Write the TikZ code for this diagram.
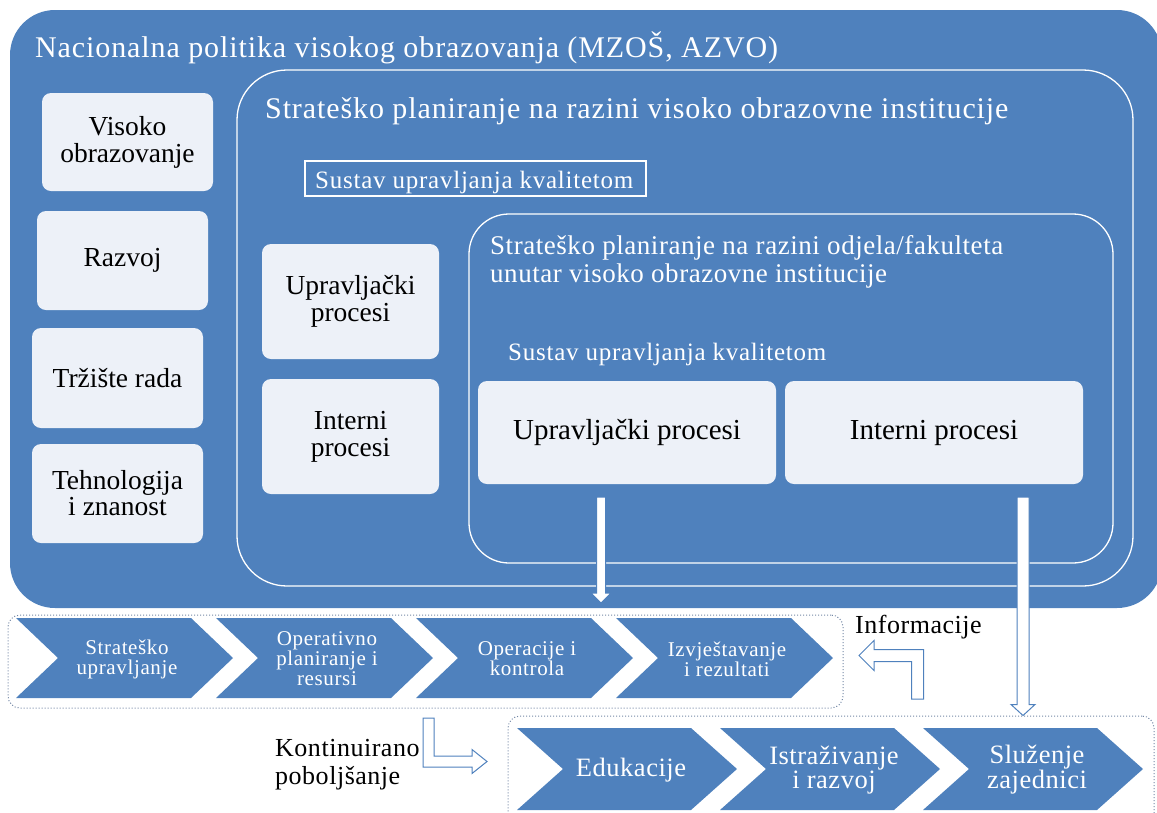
\documentclass[tikz,border=0pt]{standalone}
\usepackage{fontspec}
\setmainfont{Liberation Serif}
\usetikzlibrary{calc}
\definecolor{mblue}{RGB}{79,129,189}
\definecolor{mlight}{RGB}{237,241,248}
\definecolor{mdot}{RGB}{115,135,165}
\newcommand{\fs}[2]{\fontsize{#1}{#2}\selectfont}
\newcommand{\lsp}[1]{\addfontfeatures{LetterSpace=#1}}
\begin{document}
\begin{tikzpicture}[x=1pt,y=-1pt,
  container/.style={fill=mblue, draw=none, inner sep=0pt},
  frame/.style={draw=white, line width=1.3pt, inner sep=0pt},
  lightbox/.style={fill=mlight, draw=none, rounded corners=9pt, inner sep=0pt, align=center, text=black},
  dotbox/.style={draw=mdot, dotted, line width=1pt, rounded corners=12pt, inner sep=0pt},
  chev/.style={fill=mblue, draw=none},
  chevtext/.style={text=white, align=center, inner sep=0pt},
  wtext/.style={text=white, inner sep=0pt, anchor=base west},
  btext/.style={text=black, inner sep=0pt, anchor=base west},
  blockarrow/.style={fill=white, draw=mblue, line width=1pt, line join=miter},
]
\useasboundingbox (0,0) rectangle (1157,812);

% outer container
\node[container, rounded corners=45pt, minimum width=1152pt, minimum height=598pt] (outer) at (586,309) {};
\node[wtext, font={\fs{30}{30}\lsp{3}}] (title) at (35,57) {Nacionalna politika visokog obrazovanja (MZOŠ, AZVO)};

% left boxes
\node[lightbox, minimum width=171pt, minimum height=98pt, font=\fs{27.5}{27}] (vo) at (127.5,142) {Visoko\\obrazovanje};
\node[lightbox, minimum width=171pt, minimum height=99pt, font=\fs{27.5}{27}] (rz) at (122.5,260.5) {Razvoj};
\node[lightbox, minimum width=171pt, minimum height=100pt, font=\fs{27.5}{27}] (tr) at (117.5,378) {Tržište rada};
\node[lightbox, minimum width=171pt, minimum height=99pt, font=\fs{27.5}{26}] (tz) at (117.5,493.5) {Tehnologija\\i znanost};

% institution frame
\node[frame, rounded corners=50pt, minimum width=896pt, minimum height=516pt] (inst) at (685,328) {};
\node[wtext, font={\fs{30}{30}\lsp{3}}] (insttitle) at (265,118) {Strateško planiranje na razini visoko obrazovne institucije};
\node[frame, minimum width=341pt, minimum height=35pt] (sq1) at (475.5,178.5) {};
\node[wtext, font={\fs{25}{25}\lsp{3}}] (sq1t) at (315,188) {Sustav upravljanja kvalitetom};
\node[lightbox, minimum width=177pt, minimum height=115pt, font=\fs{27.5}{27}] (up1) at (350.5,301.5) {Upravljački\\procesi};
\node[lightbox, minimum width=177pt, minimum height=115pt, font=\fs{27.5}{27}] (in1) at (350.5,436.5) {Interni\\procesi};

% faculty frame
\node[frame, rounded corners=40pt, minimum width=644pt, minimum height=349pt] (fac) at (791,388.5) {};
\node[wtext, font={\fs{27}{27}\lsp{2}}] (factitle1) at (490,254) {Strateško planiranje na razini odjela/fakulteta};
\node[wtext, font={\fs{27}{27}\lsp{2}}] (factitle2) at (490,282) {unutar visoko obrazovne institucije};
\node[wtext, font={\fs{25}{25}\lsp{3}}] (sq2t) at (508,360) {Sustav upravljanja kvalitetom};
\node[lightbox, minimum width=298pt, minimum height=103pt, font=\fs{29}{29}] (up2) at (627,432.5) {Upravljački procesi};
\node[lightbox, minimum width=298pt, minimum height=103pt, font=\fs{29}{29}] (in2) at (934,432.5) {Interni procesi};

% dotted boxes
\node[dotbox, minimum width=835pt, minimum height=93pt] (row1) at (425.5,661.5) {};
\node[dotbox, minimum width=646pt, minimum height=114pt] (row2) at (831,773) {};

% chevrons row 1
\foreach \x/\n/\t in {16/c1/{Strateško\\upravljanje}, 216/c2/{Operativno\\planiranje i\\resursi}, 416/c3/{Operacije i\\kontrola}, 616/c4/{Izvještavanje\\i rezultati}} {
  \fill[chev] (\x,618) -- ++(175,0) -- ++(42,40) -- ++(-42,40) -- ++(-175,0) -- ++(42,-40) -- cycle;
  \node[chevtext, font={\fs{21}{20}\lsp{3}}] (\n) at (\x+111,659) {\t};
}
% chevrons row 2
\foreach \x/\n/\t in {517/d1/{Edukacije}, 720/d2/{Istraživanje\\i razvoj}, 923/d3/{Služenje\\zajednici}} {
  \fill[chev] (\x,728) -- ++(174,0) -- ++(46,41) -- ++(-46,41) -- ++(-174,0) -- ++(46,-41) -- cycle;
  \node[chevtext, font={\fs{26.5}{24}\lsp{2}}] (\n) at (\x+114,770) {\t};
}

% arrow from Upravljacki procesi (faculty) down to row 1
\coordinate (a1s) at (601,497);
\coordinate (a1e) at (601,603);
\filldraw[blockarrow] ($(a1s)+(-4.5,0)$) -- ($(a1e)+(-4.5,-10)$) -- ($(a1e)+(-10,-10)$) -- (a1e) -- ($(a1e)+(10,-10)$) -- ($(a1e)+(4.5,-10)$) -- ($(a1s)+(4.5,0)$) -- cycle;

% arrow from Interni procesi (faculty) down to row 2
\coordinate (a2s) at (1023,497);
\coordinate (a2e) at (row2.north -| a2s);
\filldraw[blockarrow] ($(a2s)+(-6,0)$) -- ($(a2e)+(-6,-11)$) -- ($(a2e)+(-12,-11)$) -- (a2e) -- ($(a2e)+(12,-11)$) -- ($(a2e)+(6,-11)$) -- ($(a2s)+(6,0)$) -- cycle;

% Informacije bent arrow
\node[btext, font={\fs{26}{26}\lsp{2}}] (info) at (855,633) {Informacije};
\coordinate (b1s) at (917.5,699);
\coordinate (b1e) at (859,655.5);
\filldraw[blockarrow] ($(b1s)+(-6,0)$) -- ($(b1s |- b1e)+(-6,6)$) -- ($(b1e)+(15,6)$) -- ($(b1e)+(15,15)$) -- (b1e) -- ($(b1e)+(15,-15)$) -- ($(b1e)+(15,-6)$) -- ($(b1s |- b1e)+(6,-6)$) -- ($(b1s)+(6,0)$) -- cycle;

% Kontinuirano poboljsanje bent arrow
\node[btext, font={\fs{26}{26}\lsp{2}}] (kont1) at (275,756) {Kontinuirano};
\node[btext, font={\fs{26}{26}\lsp{2}}] (kont2) at (275,784) {poboljšanje};
\coordinate (b2s) at (428.5,718);
\coordinate (b2e) at (487,761.5);
\filldraw[blockarrow] ($(b2s)+(-5.5,0)$) -- ($(b2s |- b2e)+(-5.5,5.5)$) -- ($(b2e)+(-15,5.5)$) -- ($(b2e)+(-15,12)$) -- (b2e) -- ($(b2e)+(-15,-12)$) -- ($(b2e)+(-15,-5.5)$) -- ($(b2s |- b2e)+(5.5,-5.5)$) -- ($(b2s)+(5.5,0)$) -- cycle;
\end{tikzpicture}
\end{document}
